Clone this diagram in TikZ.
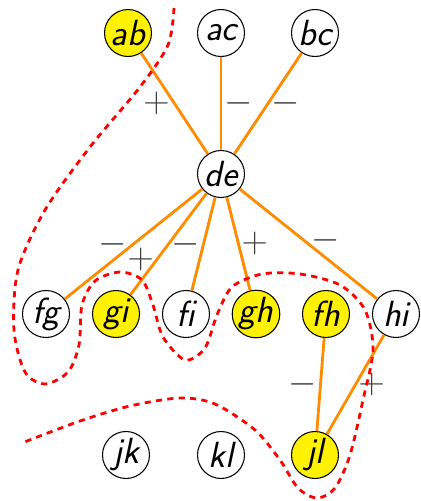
\documentclass[tikz,border=0pt]{standalone}
\usepackage{xcolor}
\usetikzlibrary{
    positioning
}

\definecolor{edgeorange}{RGB}{255,140,0}

\begin{document}
\begin{tikzpicture}[
    x=0.02cm, y=-0.02cm,
    vertex/.style={
        circle,
        draw=black,
        line width=0.6pt,
        minimum size=0.94cm,
        inner sep=0pt,
        fill=white,
        font=\huge\sffamily\itshape
    },
    chosen/.style={
        vertex,
        fill=yellow
    },
    link/.style={
        draw=edgeorange,
        line width=1.6pt
    },
    sign/.style={
        font=\huge,
        text=black!75,
        inner sep=1pt
    },
    cut/.style={
        draw=red,
        line width=1.6pt,
        dash pattern=on 3.5pt off 3pt
    }
]
\useasboundingbox (0,0) rectangle (421,501);

% =========================================================
% Top row
% =========================================================
\node[chosen] (ab) at (128,33) {ab};
\node[vertex] (ac) at (221,33) {ac};
\node[vertex] (bc) at (315,33) {bc};

% =========================================================
% Centre
% =========================================================
\node[vertex] (de) at (221,174) {de};

% =========================================================
% Middle row
% =========================================================
\node[vertex] (fg) at (46,314) {fg};
\node[chosen] (gi) at (116,314) {gi};
\node[vertex] (fi) at (186,314) {fi};
\node[chosen] (gh) at (256,314) {gh};
\node[chosen] (fh) at (326,314) {fh};
\node[vertex] (hi) at (396,314) {hi};

% =========================================================
% Bottom row
% =========================================================
\node[vertex] (jk) at (126,455) {jk};
\node[vertex] (kl) at (221,455) {kl};
\node[chosen] (jl) at (315,455) {jl};

% =========================================================
% Edges
% =========================================================
\draw[link] (ab) -- node[midway, left, sign, xshift=-1pt] {$+$} (de);
\draw[link] (ac) -- node[midway, right, sign] {$-$} (de);
\draw[link] (bc) -- node[midway, right, sign] {$-$} (de);

\draw[link] (de) -- node[midway, left, sign, xshift=-2pt] {$-$} (fg);
\draw[link] (de) -- node[pos=0.65, left, sign] {$+$} (gi);
\draw[link] (de) -- node[midway, left, sign] {$-$} (fi);
\draw[link] (de) -- node[midway, right, sign] {$+$} (gh);
\draw[link] (de) -- node[midway, right, sign, yshift=2pt] {$-$} (hi);

\draw[link] (fh) -- node[midway, left, sign] {$-$} (jl);
\draw[link] (hi) -- node[midway, right, sign] {$+$} (jl);

% =========================================================
% Cut line
% =========================================================
\draw[cut] plot[smooth] coordinates {
    (174,8) (168,45) (140,87) (90,147) (45,210) (18,270) (14,330)
    (25,372) (45,384) (68,372) (79,345) (82,305) (95,281) (120,272)
    (142,280) (153,305) (163,337) (185,360) (205,348) (217,315)
    (232,287) (262,274) (300,274) (340,285) (365,310) (373,350)
    (363,400) (350,455) (335,488) (317,498) (298,488) (280,460)
    (255,430) (215,404) (180,398) (130,406) (80,421) (22,443)
};

\end{tikzpicture}
\end{document}
